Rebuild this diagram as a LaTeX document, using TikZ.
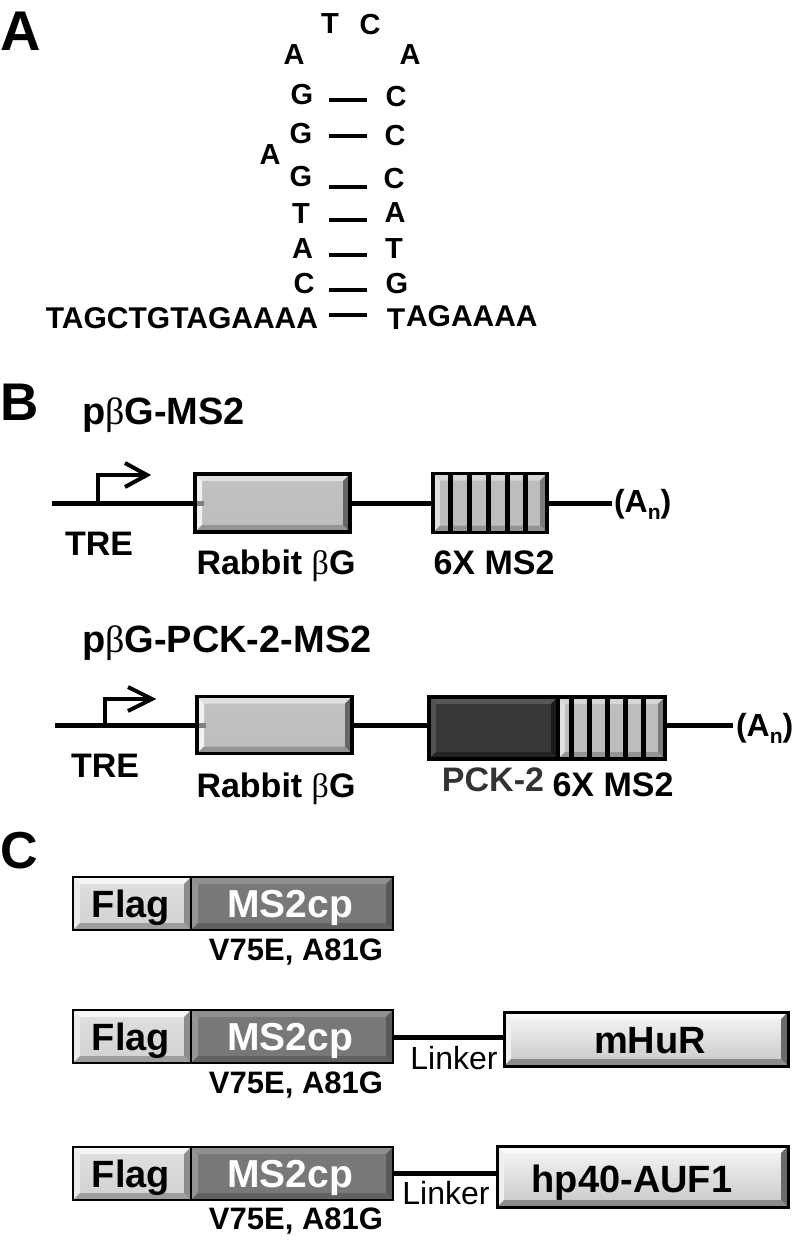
\documentclass[tikz,border=0pt]{standalone}
\usepackage{fontspec}
\setmainfont{Liberation Sans}
\newfontfamily\grk{Liberation Serif}
\usetikzlibrary{calc}
\def\bevw{7pt}
\tikzset{
  fs/.style={font=\fontsize{#1}{#1}\selectfont\bfseries},
  fr/.style={font=\fontsize{#1}{#1}\selectfont},
  txt/.style={inner sep=0pt, outer sep=0pt, anchor=base},
  bond/.style={line width=4pt},
  gline/.style={line width=5pt},
  prom/.style={line width=4pt, line join=miter},
  box/.style={draw=black, line width=3.5pt, inner sep=0pt, outer sep=0pt, rectangle},
  bevel/.style n args={4}{path picture={
      \coordinate (pNW) at (path picture bounding box.north west);
      \coordinate (pNE) at (path picture bounding box.north east);
      \coordinate (pSW) at (path picture bounding box.south west);
      \coordinate (pSE) at (path picture bounding box.south east);
      \coordinate (qNW) at ([xshift=\bevw,yshift=-\bevw]pNW);
      \coordinate (qNE) at ([xshift=-\bevw,yshift=-\bevw]pNE);
      \coordinate (qSW) at ([xshift=\bevw,yshift=\bevw]pSW);
      \coordinate (qSE) at ([xshift=-\bevw,yshift=\bevw]pSE);
      \fill[#1] (pNW) -- (pNE) -- (qNE) -- (qNW) -- cycle;
      \fill[#2] (pNW) -- (qNW) -- (qSW) -- (pSW) -- cycle;
      \fill[#3] (pNE) -- (pSE) -- (qSE) -- (qNE) -- cycle;
      \fill[#4] (pSW) -- (qSW) -- (qSE) -- (pSE) -- cycle;
  }},
  lightbox/.style={box, top color=black!24, middle color=black!8, bottom color=black!26,
     bevel={black!12}{black!5}{black!60}{black!42}},
  stripebox/.style={box, fill=black!26,
     bevel={black!16}{black!12}{black!52}{black!42}},
  darkbox/.style={box, fill=black!78,
     bevel={black!66}{black!68}{black!90}{black!86}},
  flagbox/.style={box, line width=2.5pt, top color=black!12, middle color=black!22, bottom color=black!18,
     bevel={black!4}{black!8}{black!45}{black!38}},
  msbox/.style={box, line width=2.5pt, fill=black!53,
     bevel={black!44}{black!42}{black!65}{black!62}},
  protbox/.style={box, line width=3pt, top color=black!3, middle color=black!14, bottom color=black!22,
     bevel={black!2}{black!6}{black!58}{black!45}},
}
\begin{document}
\begin{tikzpicture}[x=1pt,y=-1pt]
\useasboundingbox (0,0) rectangle (802,1245);

% ---------------- Panel A ----------------
\node[txt, fs=56, anchor=base west] (labA) at (0,50) {A};
\begin{scope}[every node/.style={txt, fs=29}]
\node (t1) at (330,33) {T};
\node (t2) at (370,34) {C};
\node (l0) at (294,64) {A};
\node (r0) at (410,64) {A};
\node (l1) at (302,104) {G};
\node (r1) at (396,106) {C};
\node (l2) at (301,143) {G};
\node (r2) at (395,145) {C};
\node (bul) at (270,164) {A};
\node (l3) at (301,186) {G};
\node (r3) at (394,188) {C};
\node (l4) at (301,223) {T};
\node (r4) at (395,222) {A};
\node (l5) at (302.5,258) {A};
\node (r5) at (394,258) {T};
\node (l6) at (304,293) {C};
\node (r6) at (397,293) {G};
\end{scope}
\node[txt, fs=30, anchor=base east] (l7) at (318,328) {TAGCTGTAGAAAA};
\node[txt, fs=30] (r7) at (396,329) {T};
\node[txt, fs=30, anchor=base west] (r7b) at (406,326) {AGAAAA};
\foreach \yy in {99.5,136,187,220,255,290,315}
  \draw[bond] (329,\yy) -- (367,\yy);

% ---------------- Panel B ----------------
\node[txt, fs=53, anchor=base west] (labB) at (0,420) {B};
\node[txt, fs=38, anchor=base west] (ttl1) at (82,424) {p{\grk\mdseries β}G-MS2};

\coordinate (g1s) at (52,503);
\coordinate (g1e) at (612,503);
\node[lightbox, minimum width=155pt, minimum height=58pt] (rb1) at (272.5,503) {};
\fill[black!50] ([xshift=1.75pt]rb1.west) ++(0,-2.5) rectangle ++(7,5);
\node[stripebox, minimum width=114pt, minimum height=59pt] (ms1) at (490,503) {};
\foreach \xx in {450,469,488,507,525} \fill (\xx-2.5,475) rectangle (\xx+2.5,532);
\draw[gline] (g1s) -- (rb1.west);
\draw[gline] (rb1.east) -- (ms1.west);
\draw[gline] (ms1.east) -- (g1e);
\node[txt, fs=32, anchor=base west] (an1) at (614,512) {(A\raisebox{-7pt}{\fontsize{21}{21}\selectfont n})};
\coordinate (p1a) at (98,503);
\coordinate (p1b) at (145,475);
\draw[prom] (p1a) |- (p1b);
\draw[prom] (125,463) -- (147,475) -- (125,487);
\node[txt, fs=34] (tre1) at (99,555) {TRE};
\node[txt, fs=34] (rbt1) at (276,574) {Rabbit {\grk\mdseries β}G};
\node[txt, fs=34] (sx1) at (494,574) {6X MS2};

\node[txt, fs=38, anchor=base west] (ttl2) at (82,652) {p{\grk\mdseries β}G-PCK-2-MS2};
\coordinate (g2s) at (55,725);
\coordinate (g2e) at (733,725);
\node[lightbox, minimum width=155pt, minimum height=57pt] (rb2) at (274.5,725) {};
\fill[black!50] ([xshift=1.75pt]rb2.west) ++(0,-2.5) rectangle ++(7,5);
\node[darkbox, minimum width=129pt, minimum height=62pt] (pck) at (493.5,728) {};
\node[stripebox, minimum width=107pt, minimum height=62pt] (ms2) at (611.5,728) {};
\foreach \xx in {571,589,607,625,643} \fill (\xx-2.5,698) rectangle (\xx+2.5,758);
\draw[gline] (g2s) -- (rb2.west);
\draw[gline] (rb2.east |- g2s) -- (pck.west |- g2s);
\draw[gline] (ms2.east |- g2e) -- (g2e);
\node[txt, fs=32, anchor=base west] (an2) at (736,736) {(A\raisebox{-7pt}{\fontsize{21}{21}\selectfont n})};
\coordinate (p2a) at (105,725);
\coordinate (p2b) at (150,699);
\draw[prom] (p2a) |- (p2b);
\draw[prom] (128,687) -- (152,699) -- (128,711);
\node[txt, fs=34] (tre2) at (105,777) {TRE};
\node[txt, fs=34] (rbt2) at (276,797) {Rabbit {\grk\mdseries β}G};
\node[txt, fs=34, text=black!80] (pcklab) at (493,791) {PCK-2};
\node[txt, fs=34] (sx2) at (613,796) {6X MS2};

% ---------------- Panel C ----------------
\node[txt, fs=52, anchor=base west] (labC) at (0,868) {C};
\foreach \r/\yy/\vy in {1/903.5/960, 2/1036.5/1093, 3/1173.5/1229}{
  \node[flagbox, minimum width=118pt, minimum height=53pt] (fl\r) at (132,\yy) {};
  \node[msbox, minimum width=202pt, minimum height=53pt] (mc\r) at (292,\yy) {};
  \node[txt, fs=38] at ([xshift=-1pt,yshift=-13.5pt]fl\r.center) {Flag};
  \node[txt, fs=39, text=white] at ([xshift=-2pt,yshift=-14pt]mc\r.center) {MS2cp};
  \node[txt, fs=31] (mut\r) at (296,\vy) {V75E, A81G};
}
\node[protbox, minimum width=284pt, minimum height=54pt] (hur) at (646,1039) {};
\node[txt, fs=38] (hurlab) at (650,1053) {mHuR};
\draw[gline] (mc2.east |- 0,1037) -- (hur.west |- 0,1037);
\node[txt, fr=32] (lk2) at (454,1069) {Linker};

\node[protbox, minimum width=291pt, minimum height=61pt] (auf) at (642.5,1176.5) {};
\node[txt, fs=38] (auflab) at (632,1192) {hp40-AUF1};
\draw[gline] (mc3.east |- 0,1173) -- (auf.west |- 0,1173);
\node[txt, fr=32] (lk3) at (446,1204) {Linker};
\end{tikzpicture}
\end{document}
